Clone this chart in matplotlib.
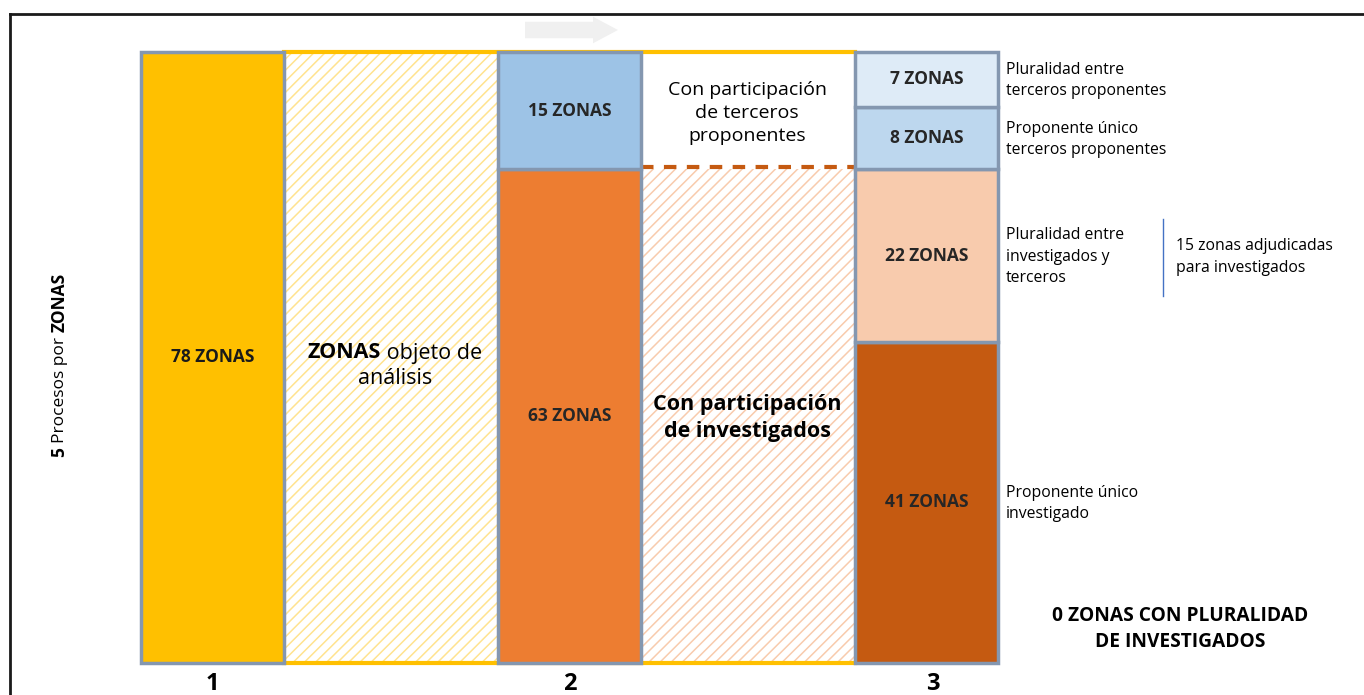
import matplotlib.pyplot as plt
from matplotlib.patches import FancyArrow

# ***** DATA *****
total_zonas = 78
bar2_labels = ['63 ZONAS', '15 ZONAS']
bar2_values = [63, 15]
bar3_labels = ['41 ZONAS', '22 ZONAS', '8 ZONAS', '7 ZONAS']
bar3_values = [41, 22, 8, 7]
bar3_notes = ['Proponente único\ninvestigado',
              'Pluralidad entre\ninvestigados y\nterceros',
              'Proponente único\nterceros proponentes',
              'Pluralidad entre\nterceros proponentes']
bar_numbers = ['1', '2', '3']

# ***** STYLE *****
plt.rcParams['font.family'] = ['Open Sans', 'DejaVu Sans']
plt.rcParams['hatch.linewidth'] = 1.1
edge = '#8497B0'
c_yellow = '#FFC000'
bar2_colors = ['#ED7D31', '#9DC3E6']
bar3_colors = ['#C55A11', '#F8CBAD', '#BDD7EE', '#DEEBF7']

fig = plt.figure(figsize=(13.64, 6.95), dpi=100)
ax = fig.add_axes([0, 0, 1, 1])
ax.set_xlim(0, 1364)
# y in zone units: 0 at pixel 663, 78 at pixel 52
unit = 611 / total_zonas
ax.set_ylim(-(695 - 663) / unit, total_zonas + 52 / unit)
ax.axis('off')
renderer = fig.canvas.get_renderer()

def py(p):
    # pixel row -> zone units
    return (663 - p) / unit

def mixed_text(x, p, parts, size, vertical=False):
    # put (text, weight) pieces one after another, centred on x / pixel row p
    texts = []
    for s, wgt in parts:
        t = ax.text(0, 0, s, fontsize=size, fontweight=wgt, va='center',
                    ha='center', rotation=90 if vertical else 0)
        texts.append(t)
    sizes = []
    for t in texts:
        bb = t.get_window_extent(renderer)
        sizes.append(bb.height if vertical else bb.width)
    total = sum(sizes)
    pos = -total / 2
    for t, s in zip(texts, sizes):
        c = pos + s / 2
        if vertical:
            t.set_position((x, py(p - c)))
        else:
            t.set_position((x + c, py(p)))
        pos += s

x1, x2, x3 = 141, 498, 855
w = 143

# hatched bands between the bars
ax.bar(284, total_zonas, width=x2 - 284, align='edge', color='white',
       edgecolor='#FFE38F', hatch='///', linewidth=0, zorder=1)
ax.bar(x2 + w, bar2_values[0], width=x3 - x2 - w, align='edge', color='white',
       edgecolor='#F8CBAD', hatch='///', linewidth=0, zorder=1)
ax.plot([284, x3], [total_zonas, total_zonas], color=c_yellow, lw=3, zorder=2)
ax.plot([284, x3], [0, 0], color=c_yellow, lw=3, zorder=2)
ax.plot([x2 + w, x3], [bar2_values[0] + 0.3] * 2, color='#C55A11', lw=3,
        ls=(0, (3, 2.5)), zorder=2)

# bar 1
ax.bar(x1, total_zonas, width=w, align='edge', color=c_yellow, edgecolor=edge,
       linewidth=2.5, zorder=3)
ax.text(x1 + w / 2, total_zonas / 2, f'{total_zonas} ZONAS', ha='center',
        va='center', fontsize=12.5, fontweight='bold', color='#1a1a1a', zorder=4)

# bar 2
bottom = 0
for val, col, lab in zip(bar2_values, bar2_colors, bar2_labels):
    ax.bar(x2, val, width=w, bottom=bottom, align='edge', color=col,
           edgecolor=edge, linewidth=2.5, zorder=3)
    ax.text(x2 + w / 2, bottom + val / 2, lab, ha='center', va='center',
            fontsize=12.5, fontweight='bold', color='#262626', zorder=4)
    bottom += val

# bar 3
bottom = 0
for val, col, lab, note in zip(bar3_values, bar3_colors, bar3_labels, bar3_notes):
    ax.bar(x3, val, width=w, bottom=bottom, align='edge', color=col,
           edgecolor=edge, linewidth=2.5, zorder=3)
    ax.text(x3 + w / 2, bottom + val / 2, lab, ha='center', va='center',
            fontsize=12.5, fontweight='bold', color='#262626', zorder=4)
    ax.text(1006, bottom + val / 2 - 0.15, note, ha='left', va='center',
            fontsize=11.3, linespacing=1.45, zorder=4)
    bottom += val

# bar numbers
for xc, num in zip([x1 + w / 2, x2 + w / 2, x3 + w / 2 + 6], bar_numbers):
    ax.text(xc, py(684), num, ha='center', va='center', fontsize=17,
            fontweight='bold')

# middle texts
ax.text(747, py(113), 'Con participación\nde terceros\nproponentes', ha='center',
        va='center', fontsize=14, linespacing=1.35)
ax.text(747, py(418), 'Con participación\nde investigados', ha='center',
        va='center', fontsize=15.5, fontweight='bold', linespacing=1.35)
mixed_text(395, 353, [('ZONAS', 'bold'), (' objeto de', 'normal')], 15.5)
ax.text(395, py(379), 'análisis', ha='center', va='center', fontsize=15.5)

# side notes
ax.plot([1163, 1163], [py(219), py(296)], color='#4472C4', lw=1)
ax.text(1176, py(257), '15 zonas adjudicadas\npara investigados', ha='left',
        va='center', fontsize=11.3, linespacing=1.45)
ax.text(1180, py(629), '0 ZONAS CON PLURALIDAD\nDE INVESTIGADOS', ha='center',
        va='center', fontsize=13.8, fontweight='bold', linespacing=1.4)

# y label: 5 Procesos por ZONAS
mixed_text(60, 365, [('5 ', 'bold'), ('Procesos por ', 'normal'),
                     ('ZONAS', 'bold')], 12.5, vertical=True)

# faint arrow on top
ax.add_patch(FancyArrow(525, py(30), 68, 0, width=2.1, head_width=3.4,
                        head_length=25, length_includes_head=False,
                        color='#F0F0F0', lw=0))

# frame
ax.plot([10, 1364], [py(14), py(14)], color='#1a1a1a', lw=2, clip_on=False)
ax.plot([10, 10], [py(14), py(695)], color='#1a1a1a', lw=2, clip_on=False)

fig.savefig('out.png', dpi=100)
